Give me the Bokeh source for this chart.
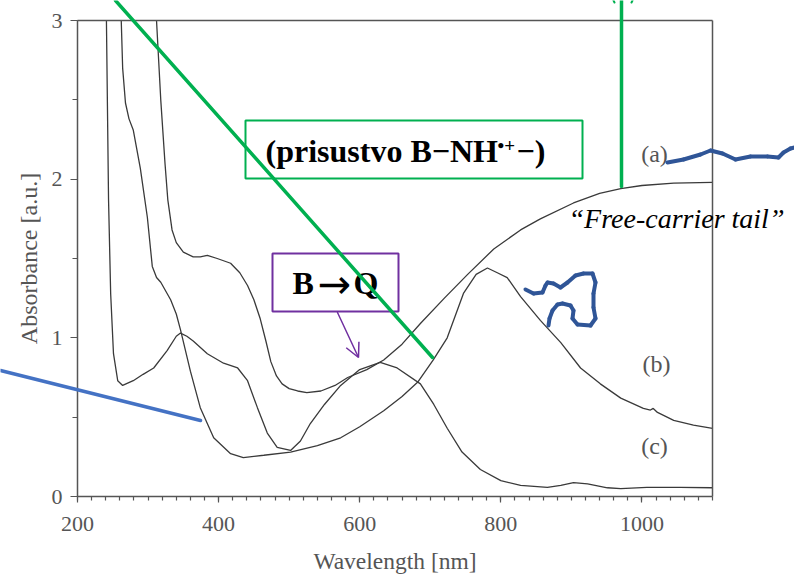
from bokeh.plotting import figure
from bokeh.models import Range1d, FixedTicker, Label, Arrow, OpenHead, BoxAnnotation, LinearAxis
from bokeh.embed import file_html
from bokeh.resources import INLINE

# ---------------- data ----------------
wl_a = [312, 318, 324, 328, 334, 340, 350, 364, 374, 384, 398, 417, 430, 441, 450,
        459, 467, 474, 482, 490, 500, 512, 525, 545, 565, 583, 610, 634, 660, 686, 720,
        753, 790, 828, 856, 903, 940, 970, 1000, 1045, 1100]
abs_a = [3.0, 2.50, 2.10, 1.87, 1.68, 1.60, 1.54, 1.51, 1.51, 1.52, 1.50, 1.47, 1.41, 1.33, 1.24,
         1.12, 0.98, 0.85, 0.76, 0.71, 0.68, 0.665, 0.655, 0.665, 0.70, 0.75, 0.80, 0.86, 0.96, 1.09, 1.25,
         1.40, 1.56, 1.68, 1.75, 1.85, 1.91, 1.94, 1.96, 1.975, 1.98]

wl_b = [262, 264, 268, 273, 279, 289, 299, 306, 312, 318, 332, 340, 346, 360, 374, 393,
        417, 435, 464, 502, 540, 573, 600, 634, 660, 682, 704, 724, 747, 765, 781, 795, 809,
        828, 856, 885, 913, 941, 970, 1002, 1012, 1016, 1022, 1045, 1073, 1100]
abs_b = [3.0, 2.70, 2.48, 2.38, 2.31, 2.07, 1.76, 1.45, 1.38, 1.35, 1.24, 1.15, 1.05, 0.79, 0.56, 0.37,
         0.27, 0.245, 0.26, 0.28, 0.32, 0.37, 0.44, 0.54, 0.63, 0.72, 0.86, 1.00, 1.28, 1.40, 1.44, 1.41, 1.38,
         1.26, 1.11, 0.97, 0.81, 0.71, 0.62, 0.555, 0.545, 0.555, 0.53, 0.48, 0.45, 0.43]

wl_c = [241, 244, 247, 251, 257, 264, 279, 293, 308, 327, 340, 346, 355, 364, 384, 407,
        427, 441, 455, 469, 483, 502, 516, 530, 550, 573, 600, 629, 653, 686, 705, 724, 745,
        771, 800, 828, 866, 885, 903, 923, 951, 970, 1007, 1054, 1100]
abs_c = [3.0, 1.87, 1.28, 0.90, 0.73, 0.70, 0.73, 0.77, 0.81, 0.92, 1.01, 1.03, 1.01, 0.98, 0.90, 0.84,
         0.81, 0.73, 0.56, 0.40, 0.31, 0.29, 0.35, 0.46, 0.58, 0.70, 0.80, 0.845, 0.81, 0.71, 0.58, 0.43, 0.28,
         0.17, 0.10, 0.07, 0.057, 0.07, 0.088, 0.08, 0.055, 0.05, 0.057, 0.057, 0.055]

x_lim = [200, 1100]
y_lim = [0, 3]
x_major = [200, 400, 600, 800, 1000]
x_minor = list(range(200, 1101, 20))
y_major = [0, 1, 2, 3]
y_minor = [0, 0.5, 1, 1.5, 2, 2.5, 3]

curve_names = ["(a)", "(b)", "(c)"]
x_title = "Wavelength [nm]"
y_title = "Absorbance [a.u.]"
note_green = ["(prisustvo B\u2212NH", "\u2022+", "\u2212)"]
note_purple = ["B", "\u2192", "Q"]
note_tail = "\u201cFree-carrier tail\u201d"

# ---------------- layout: axes box position in the 794x576 picture ----------------
W, H = 794, 576
FL, FR, FT, FB = 77, 712, 20, 496
kx = (FR - FL) / (x_lim[1] - x_lim[0])
ky = (FB - FT) / (y_lim[1] - y_lim[0])

p = figure(width=W, height=H, output_backend="svg", toolbar_location=None,
           x_range=Range1d(x_lim[0] - FL / kx, x_lim[1] + (W - FR) / kx),
           y_range=Range1d(y_lim[0] - (H - FB) / ky, y_lim[1] + FT / ky),
           min_border=0)
p.xgrid.visible = False
p.ygrid.visible = False
p.outline_line_color = None
p.background_fill_color = "white"
p.border_fill_color = "white"

AX = "#555555"
SERIF = "Liberation Serif"

xa = p.xaxis[0]
ya = p.yaxis[0]
xa.fixed_location = y_lim[0]
ya.fixed_location = x_lim[0]
xa.bounds = tuple(x_lim)
ya.bounds = tuple(y_lim)
for ax in (xa, ya):
    ax.axis_line_color = AX
    ax.axis_line_width = 1.5
    ax.major_tick_line_color = AX
    ax.minor_tick_line_color = AX
    ax.major_tick_line_width = 1.2
    ax.minor_tick_line_width = 1.2
    ax.major_tick_in = 0
    ax.minor_tick_in = 0
    ax.major_label_text_font = SERIF
    ax.major_label_text_font_size = "22px"
    ax.major_label_text_color = AX
    ax.axis_label_text_font = SERIF
    ax.axis_label_text_font_style = "normal"
    ax.axis_label_text_color = AX

xa.ticker = FixedTicker(ticks=x_major, minor_ticks=x_minor)
ya.ticker = FixedTicker(ticks=y_major, minor_ticks=y_minor)
xa.major_tick_out = 6
xa.minor_tick_out = 4
xa.major_label_standoff = 14
xa.axis_label = x_title
xa.axis_label_text_font_size = "23.5px"
xa.axis_label_standoff = 14
ya.major_tick_out = 7
ya.minor_tick_out = 5
ya.major_label_standoff = 8
ya.axis_label = y_title
ya.axis_label_text_font_size = "24px"
ya.axis_label_standoff = 7

# top and right frame lines
top_ax = LinearAxis(fixed_location=y_lim[1], bounds=tuple(x_lim), ticker=FixedTicker(ticks=[]),
                    axis_line_color=AX, axis_line_width=1.5)
right_ax = LinearAxis(fixed_location=x_lim[1], bounds=tuple(y_lim), ticker=FixedTicker(ticks=[]),
                      axis_line_color=AX, axis_line_width=1.5)
p.add_layout(top_ax, "above")
p.add_layout(right_ax, "right")

# curves
for wl, ab in ((wl_a, abs_a), (wl_b, abs_b), (wl_c, abs_c)):
    p.line(wl, ab, line_color="#3a3a3a", line_width=1.3)


# ---------------- decorations (positions in picture pixels) ----------------
def dx(X):
    return x_lim[0] + (X - FL) / kx


def dy(Y):
    return y_lim[0] + (FB - Y) / ky


def label(X, Y, text, size, **kw):
    opts = dict(text_font=SERIF, text_font_size=size, text_baseline="middle", text_align="center",
                text_color="black")
    opts.update(kw)
    p.add_layout(Label(x=dx(X), y=dy(Y), text=text, **opts))


def seg(X0, Y0, X1, Y1, color, width, head=None):
    p.add_layout(Arrow(x_start=dx(X0), y_start=dy(Y0), x_end=dx(X1), y_end=dy(Y1),
                       line_color=color, line_width=width, line_cap="round", end=head))


def path(pts, color, width):
    for (X0, Y0), (X1, Y1) in zip(pts[:-1], pts[1:]):
        seg(X0, Y0, X1, Y1, color, width)


# curve names
for (X, Y), t in zip([(654, 153), (656, 363), (654, 445)], curve_names):
    label(X, Y, t, "24px", text_color="#555555")

# free-carrier tail
label(568, 218, note_tail, "28px", text_align="left", text_font_style="italic")

# boxes
GREEN = "#00B050"
PURPLE = "#7030A0"
p.add_layout(BoxAnnotation(left=dx(245), right=dx(582), top=dy(120), bottom=dy(178),
                           fill_alpha=0, line_color=GREEN, line_width=2, line_alpha=1))
p.add_layout(BoxAnnotation(left=dx(272), right=dx(398), top=dy(253), bottom=dy(311),
                           fill_alpha=0, line_color=PURPLE, line_width=2, line_alpha=1))

label(265, 150, note_green[0], "32px", text_align="left", text_font_style="bold")
label(497, 145, note_green[1], "19px", text_align="left", text_font_style="bold")
label(516, 150, note_green[2], "32px", text_align="left", text_font_style="bold")
label(292, 282, note_purple[0], "32px", text_align="left", text_font_style="bold")
label(334, 283, note_purple[1], "40px", text_font="DejaVu Sans")
label(353, 282, note_purple[2], "32px", text_align="left", text_font_style="bold")

# lines
seg(115, 0, 432, 357, GREEN, 3.5)
seg(621, 0, 621, 186, GREEN, 3.5)
seg(613, 0, 614, 2, GREEN, 2)
seg(632, 0, 631, 2, GREEN, 2)
seg(0, 370, 200, 420, "#4472C4", 3.5)
seg(337, 312, 358, 357, PURPLE, 1.5,
    head=OpenHead(size=14, line_color=PURPLE, line_width=1.5))

BLUE = "#2F5597"
path([(667, 162), (683, 159), (700, 154), (710, 150), (722, 153), (735, 159), (750, 156),
      (767, 156), (778, 157), (783, 152), (790, 148), (794, 147)], BLUE, 4)
path([(525, 289), (533, 293), (542, 292), (545, 285), (547, 282), (553, 283), (560, 287),
      (567, 282), (575, 275), (583, 273), (592, 273), (595, 282), (593, 293), (593, 307),
      (595, 318), (590, 325), (577, 324), (572, 318), (573, 310), (570, 305), (562, 303),
      (557, 304), (552, 310), (549, 318), (548, 325)], BLUE, 4)

open("out.html", "w").write(file_html(p, INLINE))
